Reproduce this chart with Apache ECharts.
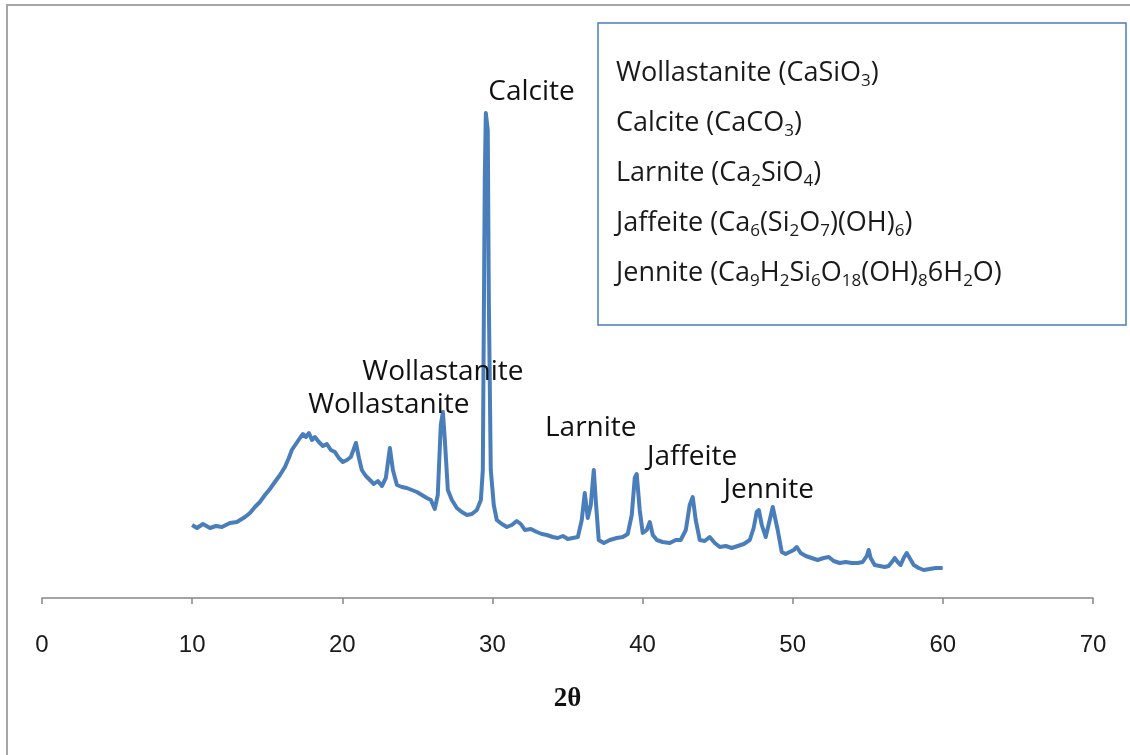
<!DOCTYPE html>
<html>
<head>
<meta charset="utf-8">
<script src="https://cdn.jsdelivr.net/npm/echarts@6/dist/echarts.min.js"></script>
<style>
  html, body { margin: 0; padding: 0; background: #fff; }
  #chart { width: 1130px; height: 755px; }
</style>
</head>
<body>
<div id="chart"></div>
<script>
// 2θ positions (deg) and intensity (arb. units)
var twoTheta = [
  10.0, 10.32, 10.72, 11.19, 11.58, 11.98, 12.52, 12.98, 13.52, 13.85,
  14.18, 14.51, 14.85, 15.18, 15.51, 15.85, 16.18, 16.44, 16.64, 16.91,
  17.18, 17.38, 17.58, 17.78, 17.98, 18.18, 18.44, 18.71, 18.97, 19.24,
  19.51, 19.77, 20.04, 20.31, 20.57, 20.91, 21.11, 21.30, 21.57, 21.84,
  22.10, 22.37, 22.64, 22.90, 23.17, 23.37, 23.64, 23.97, 24.30, 24.63,
  24.97, 25.30, 25.63, 25.90, 26.16, 26.36, 26.56, 26.70, 26.83, 27.03,
  27.30, 27.63, 27.96, 28.30, 28.63, 28.96, 29.23, 29.36, 29.49, 29.56,
  29.69, 29.76, 29.89, 30.09, 30.29, 30.63, 30.96, 31.29, 31.62, 31.89,
  32.16, 32.56, 32.96, 33.29, 33.62, 34.02, 34.35, 34.69, 35.02, 35.35,
  35.69, 35.95, 36.15, 36.35, 36.55, 36.75, 36.88, 37.08, 37.42, 37.82,
  38.28, 38.68, 39.01, 39.28, 39.48, 39.61, 39.81, 40.01, 40.28, 40.48,
  40.68, 40.95, 41.34, 41.81, 42.21, 42.54, 42.88, 43.14, 43.34, 43.54,
  43.81, 44.14, 44.47, 44.81, 45.14, 45.54, 45.94, 46.34, 46.74, 47.14,
  47.40, 47.60, 47.74, 47.94, 48.20, 48.47, 48.67, 48.80, 49.00, 49.27,
  49.53, 49.80, 50.07, 50.27, 50.53, 50.87, 51.26, 51.66, 52.06, 52.40,
  52.73, 53.13, 53.53, 53.93, 54.33, 54.66, 54.93, 55.06, 55.19, 55.46,
  55.79, 56.13, 56.39, 56.66, 56.79, 56.99, 57.19, 57.39, 57.59, 57.79,
  58.06, 58.39, 58.72, 59.12, 59.52, 59.99
];
var intensity = [
  73, 70, 74, 70, 72, 71, 75, 76, 81, 85,
  91, 96, 103, 109, 116, 123, 131, 140, 148, 154,
  160, 164, 161, 165, 158, 161, 156, 152, 154, 148,
  146, 140, 136, 138, 141, 155, 140, 128, 122, 118,
  114, 117, 112, 120, 150, 128, 113, 111, 110, 108,
  106, 103, 100, 98, 89, 103, 173, 186, 158, 108,
  98, 90, 86, 83, 84, 88, 98, 128, 418, 485,
  468, 298, 128, 93, 78, 74, 71, 73, 77, 74,
  68, 69, 66, 64, 63, 61, 60, 62, 59, 60,
  61, 78, 105, 80, 93, 128, 98, 58, 55, 58,
  60, 61, 64, 83, 120, 124, 88, 65, 68, 76,
  63, 58, 56, 55, 58, 58, 68, 93, 101, 78,
  58, 57, 61, 55, 51, 52, 50, 52, 54, 58,
  70, 86, 88, 73, 61, 78, 91, 90, 68, 46,
  44, 46, 48, 51, 45, 42, 40, 38, 40, 41,
  37, 35, 36, 35, 35, 36, 42, 48, 40, 33,
  32, 31, 32, 37, 40, 36, 33, 40, 45, 40,
  33, 30, 28, 29, 30, 30
];

// peak annotations
var peakNames = ['Calcite', 'Wollastanite', 'Wollastanite', 'Larnite', 'Jaffeite', 'Jennite'];
var peakX = [32.6, 26.7, 23.1, 36.55, 43.3, 48.4];
var peakY = [506, 226, 193, 170, 141, 108];

// legend box lines, subscripts as {s|..}
var phaseLines = [
  'Wollastanite ({n|CaSiO}{s|3}{n|)}',
  'Calcite ({n|CaCO}{s|3}{n|)}',
  'Larnite ({n|Ca}{s|2}{n|SiO}{s|4}{n|)}',
  'Jaffeite ({n|Ca}{s|6}{n|(Si}{s|2}{n|O}{s|7}{n|)(OH)}{s|6}{n|)}',
  'Jennite ({n|Ca}{s|9}{n|H}{s|2}{n|Si}{s|6}{n|O}{s|18}{n|(OH)}{s|8}{n|6H}{s|2}{n|O)}'
];

var pattern = twoTheta.map(function (x, i) { return [x, intensity[i]]; });
var notes = peakNames.map(function (n, i) { return { name: n, value: [peakX[i], peakY[i]] }; });

var chart = echarts.init(document.getElementById('chart'));

var gfx = [
  {
    type: 'rect',
    shape: { x: 7, y: 5, width: 1200, height: 800 },
    style: { fill: 'none', stroke: '#a6a6a6', lineWidth: 2 },
    z: 0
  },
  {
    type: 'rect',
    shape: { x: 598, y: 23, width: 528, height: 302 },
    style: { fill: '#fff', stroke: '#4a7ebb', lineWidth: 1.5 },
    z: 10
  }
];
phaseLines.forEach(function (t, i) {
  gfx.push({
    type: 'text',
    left: 616,
    top: 60 + i * 50,
    z: 11,
    style: {
      text: t,
      fill: '#1a1a1a',
      font: '27px "Open Sans"',
      rich: {
        n: { fontSize: 27, fontFamily: 'Open Sans', color: '#1a1a1a', lineHeight: 32 },
        s: { fontSize: 17, fontFamily: 'Open Sans', color: '#1a1a1a', lineHeight: 17, verticalAlign: 'bottom' }
      }
    }
  });
});

chart.setOption({
  animation: false,
  backgroundColor: '#fff',
  grid: { left: 42, right: 37, top: 48, bottom: 157 },
  xAxis: {
    type: 'value',
    min: 0,
    max: 70,
    interval: 10,
    name: '2θ',
    nameLocation: 'middle',
    nameGap: 88,
    nameTextStyle: { fontFamily: 'Liberation Serif', fontWeight: 'bold', fontSize: 27, color: '#111' },
    axisLine: { lineStyle: { color: '#868686', width: 1.5 } },
    axisTick: { length: 6, lineStyle: { color: '#868686', width: 1.5 } },
    axisLabel: { margin: 35, fontFamily: '"Liberation Sans Narrow", "Liberation Sans"', fontSize: 24, color: '#1a1a1a' },
    splitLine: { show: false }
  },
  yAxis: {
    type: 'value',
    min: 0,
    max: 550,
    show: false
  },
  graphic: gfx,
  series: [
    {
      type: 'line',
      data: pattern,
      showSymbol: false,
      symbol: 'none',
      lineStyle: { color: '#4a7ebb', width: 4, join: 'round' },
      z: 2
    },
    {
      type: 'scatter',
      data: notes,
      symbolSize: 0,
      itemStyle: { opacity: 1 },
      z: 3,
      label: {
        show: true,
        position: 'inside',
        formatter: '{b}',
        fontFamily: 'Open Sans',
        fontSize: 28,
        color: '#111',
        opacity: 1
      }
    }
  ]
});
</script>
</body>
</html>
